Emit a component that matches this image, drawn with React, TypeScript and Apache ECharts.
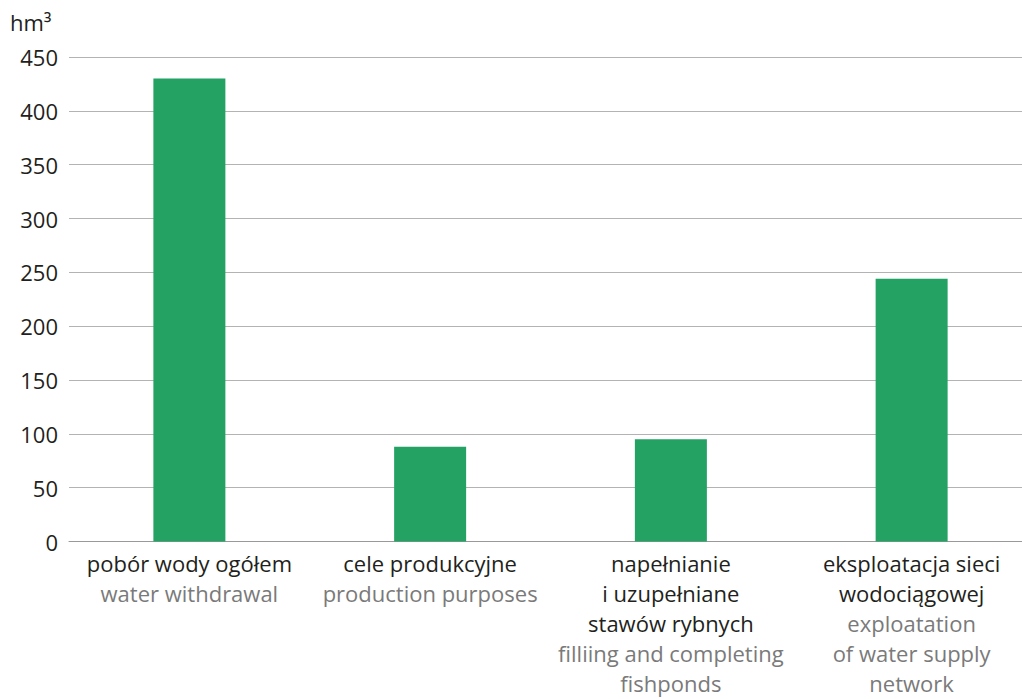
import React, { useEffect, useRef } from "react";
import * as echarts from "echarts";

// Water withdrawal by purpose, in cubic hectometres
const categoriesPl = [
  "pobór wody ogółem",
  "cele produkcyjne",
  "napełnianie\ni uzupełniane\nstawów rybnych",
  "eksploatacja sieci\nwodociągowej",
];
const categoriesEn = [
  "water withdrawal",
  "production purposes",
  "filliing and completing\nfishponds",
  "exploatation\nof water supply\nnetwork",
];
const values = [430, 88, 95, 244];
const unitLabel = "hm³";

const FONT = "'Open Sans', 'Noto Sans', sans-serif";

export default function App() {
  const ref = useRef<HTMLDivElement>(null);

  useEffect(() => {
    if (!ref.current) return;
    const chart = echarts.init(ref.current, undefined, { renderer: "svg" });

    // Polish caption lines in dark text, English translation lines in grey
    const labels = categoriesPl.map((pl, i) => {
      const plPart = pl
        .split("\n")
        .map((l) => `{a|${l}}`)
        .join("\n");
      const enPart = categoriesEn[i]
        .split("\n")
        .map((l) => `{b|${l}}`)
        .join("\n");
      return `${plPart}\n${enPart}`;
    });

    chart.setOption({
      animation: false,
      backgroundColor: "#ffffff",
      textStyle: { fontFamily: FONT },
      grid: { left: 69, right: 0, top: 57, bottom: 157.5, containLabel: false },
      graphic: [
        {
          type: "text",
          left: 10,
          top: 11,
          style: {
            text: unitLabel,
            fontSize: 22,
            fontFamily: FONT,
            fill: "#231f20",
          },
        },
      ],
      xAxis: {
        type: "category",
        data: labels,
        axisTick: { show: false },
        axisLine: { lineStyle: { color: "#999999", width: 1 } },
        axisLabel: {
          interval: 0,
          margin: 6,
          align: "center",
          formatter: (v: string) => v,
          rich: {
            a: { fontSize: 22, color: "#231f20", lineHeight: 30.2, fontFamily: FONT },
            b: { fontSize: 22, color: "#7a7a7a", lineHeight: 30.2, fontFamily: FONT },
          },
        },
      },
      yAxis: {
        type: "value",
        min: 0,
        max: 450,
        interval: 50,
        axisLine: { show: false },
        axisTick: { show: false },
        splitLine: { lineStyle: { color: "#b3b3b3", width: 1 } },
        axisLabel: {
          fontSize: 22,
          color: "#231f20",
          margin: 11,
          fontFamily: FONT,
        },
      },
      series: [
        {
          type: "bar",
          data: values,
          barWidth: 72,
          itemStyle: { color: "#23a263" },
        },
      ],
    });

    return () => chart.dispose();
  }, []);

  return (
    <div
      style={{
        position: "absolute",
        left: 0,
        top: 0,
        width: 1022,
        height: 699,
        overflow: "hidden",
      }}
    >
      <div ref={ref} style={{ width: 1032, height: 699 }} />
    </div>
  );
}
